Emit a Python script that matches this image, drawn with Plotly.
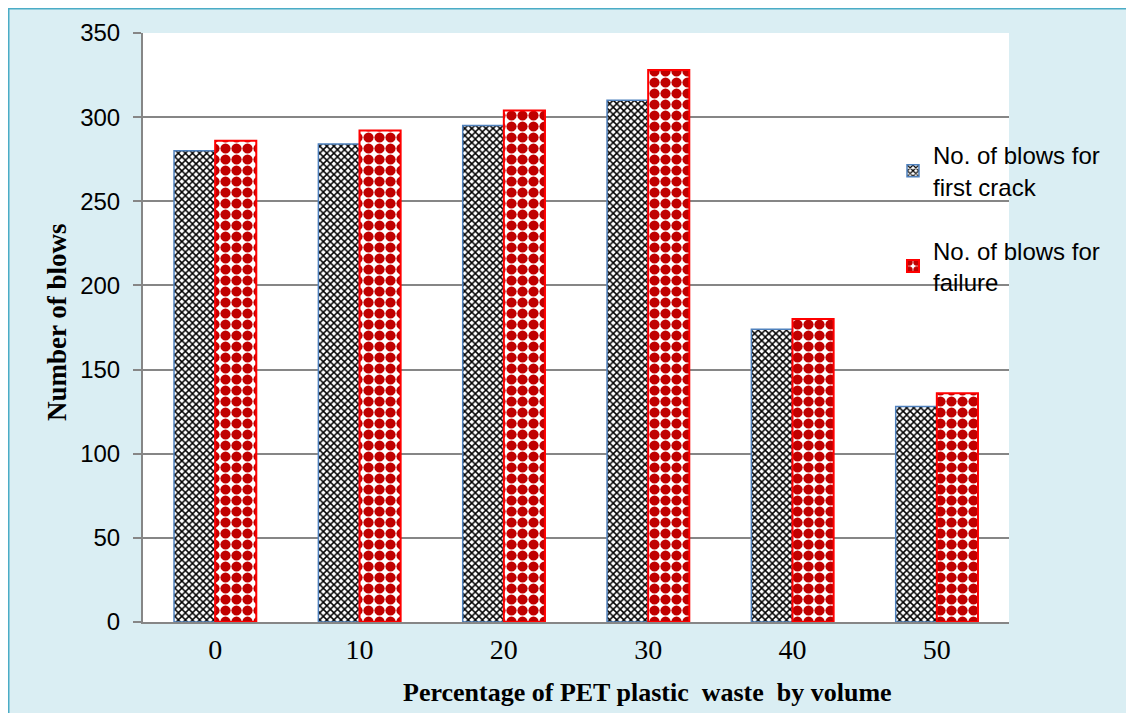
import plotly.graph_objects as go

categories = ["0", "10", "20", "30", "40", "50"]
first_crack = [280, 284, 295, 310, 174, 128]
failure = [286, 292, 304, 328, 180, 136]
y_ticks = [0, 50, 100, 150, 200, 250, 300, 350]

W, H = 1126, 705
L, R, T, B = 135, 125, 25, 91
pw, ph = W - L - R, H - T - B

fig = go.Figure()
fig.add_trace(go.Bar(
    x=categories, y=first_crack, name="No. of blows for<br>first crack",
    legendgroup="a",
    marker=dict(color="white",
                line=dict(color="#4F81BD", width=1.5),
                pattern=dict(shape="x", fgcolor="black", bgcolor="white", fgopacity=1,
                             size=5, solidity=0.5, fillmode="overlay")),
))
fig.add_trace(go.Bar(
    x=categories, y=failure, name="No. of blows for<br>failure",
    legendgroup="b",
    marker=dict(color="white",
                line=dict(color="#FF0000", width=2),
                pattern=dict(shape=".", fgcolor="#C00000", bgcolor="white", fgopacity=1,
                             size=11, solidity=0.68, fillmode="overlay")),
))

def px_x(v):
    return (v - L) / pw

def px_y(v):
    return 1 - (v - T) / ph

fig.update_layout(
    width=W, height=H,
    margin=dict(l=L, r=R, t=T, b=B),
    paper_bgcolor="#DAEEF3",
    plot_bgcolor="white",
    barmode="group",
    bargap=0.43,
    bargroupgap=0,
    showlegend=True,
    legend=dict(x=px_x(885), y=px_y(125), xanchor="left", yanchor="top",
                bgcolor="rgba(0,0,0,0)", tracegroupgap=30,
                font=dict(family="Liberation Sans, Arial, sans-serif", size=24, color="black")),
    xaxis=dict(showgrid=False, showline=True, linecolor="#868686", linewidth=2,
               ticks="", tickfont=dict(family="Liberation Serif, Times New Roman, serif", size=28, color="black"),
               ticklabelstandoff=1),
    yaxis=dict(range=[0, 350], tickvals=y_ticks, showgrid=True, gridcolor="#868686", gridwidth=1.5,
               showline=True, linecolor="#868686", linewidth=2,
               ticks="outside", ticklen=8, tickcolor="#868686", tickwidth=1.5,
               tickfont=dict(family="Liberation Sans, Arial, sans-serif", size=24, color="black"),
               ticklabelstandoff=8, zeroline=False),
    annotations=[
        dict(text="<b>Percentage of PET plastic &nbsp;waste &nbsp;by volume</b>", xref="paper", yref="paper",
             x=px_x(639), y=px_y(684), xanchor="center", yanchor="middle", showarrow=False,
             font=dict(family="Liberation Serif, Times New Roman, serif", size=26, color="black")),
        dict(text="<b>Number of blows</b>", xref="paper", yref="paper", textangle=-90,
             x=px_x(49), y=px_y(314), xanchor="center", yanchor="middle", showarrow=False,
             font=dict(family="Liberation Serif, Times New Roman, serif", size=27, color="black")),
    ],
    shapes=[
        dict(type="line", xref="paper", yref="paper", x0=px_x(0), x1=px_x(0), y0=px_y(0), y1=px_y(740),
             line=dict(color="#4BACC6", width=3)),
        dict(type="line", xref="paper", yref="paper", x0=px_x(0), x1=px_x(1150), y0=px_y(0), y1=px_y(0),
             line=dict(color="#4BACC6", width=3)),
    ],
)

fig.write_html("out.html", post_script="document.body.style.overflow='hidden';")
